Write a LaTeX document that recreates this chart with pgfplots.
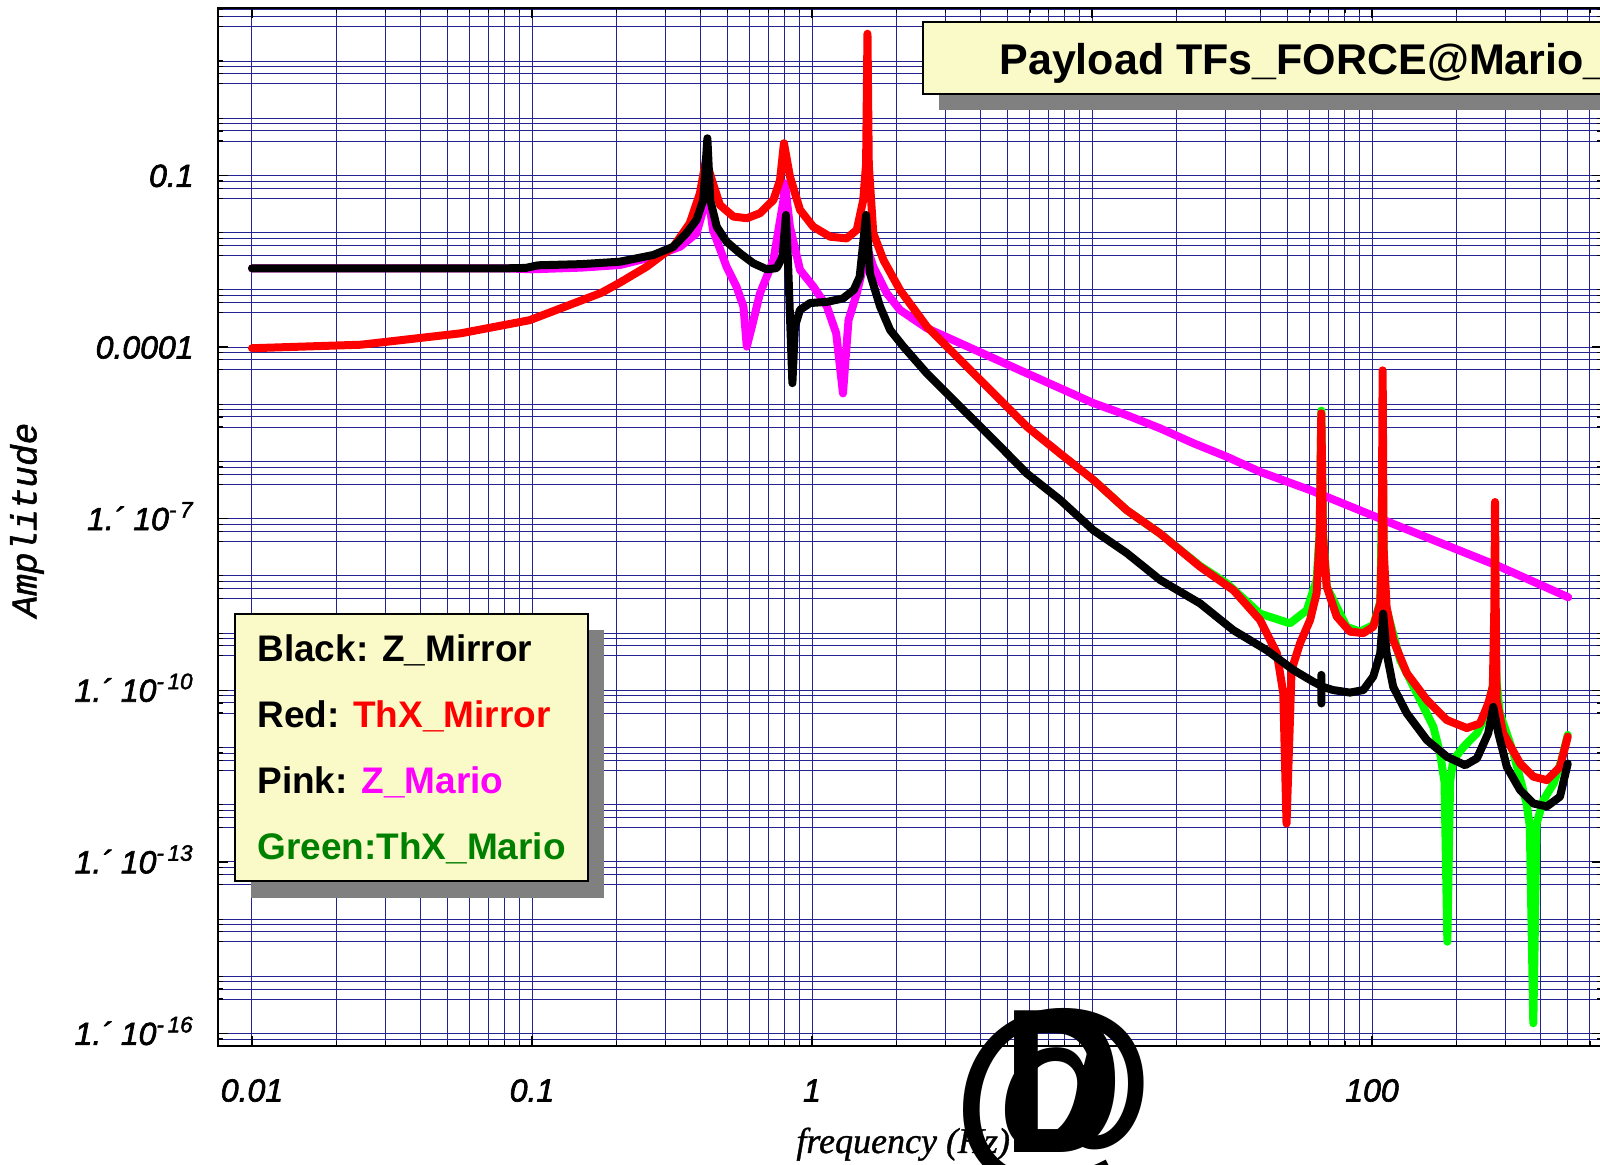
\documentclass[border=0pt]{standalone}
\usepackage{fontspec}
\setmainfont{Liberation Sans}
\newfontface\monofont[FakeBold=1.5]{Liberation Mono Italic}
\newfontface\seriffont[FakeBold=1]{Liberation Serif Italic}
\newfontface\tickfont[FakeBold=2]{Liberation Sans Italic}
\usepackage{graphicx}
\usepackage{pgfplots}
\pgfplotsset{compat=1.18}
\definecolor{gridblue}{RGB}{35,35,145}
\definecolor{boxyellow}{RGB}{250,250,200}
\definecolor{shadowgray}{RGB}{128,128,128}
\definecolor{cmagenta}{RGB}{255,0,255}
\definecolor{cgreen}{RGB}{0,255,0}
\definecolor{dgreen}{RGB}{0,128,0}
\definecolor{cred}{RGB}{255,0,0}
\begin{document}
\begin{tikzpicture}
\begin{axis}[
  at={(109pt,59.5pt)}, anchor=south west,
  scale only axis, width=692pt, height=519pt,
  xmode=log, ymode=log,
  xmin=0.007562, xmax=662.7,
  ymin=6.05e-17, ymax=84.7,
  xtick={0.01,0.1,1,10,100},
  xticklabels={0.01,0.1,1,10,100},
  minor xtick={0.02,0.03,0.04,0.05,0.06,0.07,0.08,0.09,0.2,0.3,0.4,0.5,0.6,0.7,0.8,0.9,2,3,4,5,6,7,8,9,20,30,40,50,60,70,80,90,200,300,400,500,600},
  ytick={1e-16,1e-13,1e-10,1e-7,1e-4,0.1},
  yticklabels={{1.´\ 10\textsuperscript{-\,16}},{1.´\ 10\textsuperscript{-\,13}},{1.´\ 10\textsuperscript{-\,10}},{1.´\ 10\textsuperscript{-\,7}},{0.0001},{0.1}},
  minor ytick={8e-17,
    1e-15,4e-16,6e-16,8e-16, 1e-14,4e-15,6e-15,8e-15, 4e-14,6e-14,8e-14,
    1e-12,4e-13,6e-13,8e-13, 1e-11,4e-12,6e-12,8e-12, 4e-11,6e-11,8e-11,
    1e-9,4e-10,6e-10,8e-10, 1e-8,4e-9,6e-9,8e-9, 4e-8,6e-8,8e-8,
    1e-6,4e-7,6e-7,8e-7, 1e-5,4e-6,6e-6,8e-6, 4e-5,6e-5,8e-5,
    1e-3,4e-4,6e-4,8e-4, 1e-2,4e-3,6e-3,8e-3, 4e-2,6e-2,8e-2,
    1,0.4,0.6,0.8, 10,4,6,8, 40,60,80},
  grid=both,
  major grid style={gridblue, line width=0.5pt},
  minor grid style={gridblue, line width=0.5pt},
  axis line style={black, line width=0.8pt},
  tick style={black, line width=0.6pt},
  major tick length=5pt, minor tick length=2.5pt,
  xticklabel style={font=\tickfont\fontsize{16}{16}\selectfont, anchor=base, inner sep=0pt, yshift=-27.75pt},
  yticklabel style={font=\tickfont\fontsize{16}{16}\selectfont, anchor=base east, inner sep=0pt, xshift=-12pt, yshift=-5.7pt},
  every axis plot/.append style={line width=4pt, line join=round, line cap=round},
]
% Green: ThX_Mario
\addplot[cgreen] coordinates {(10.1,4.79e-7) (13.3,1.41e-7) (17.5,5.5e-8) (24.3,1.5e-8) (30.3,7.41e-9) (39.8,2.19e-9) (50.9,1.48e-9) (58.5,2.51e-9) (63.4,8.51e-9) (65.0,6e-8) (65.9,7.76e-6) (66.8,6e-8) (68.9,6.46e-9) (81.1,1.29e-9) (90.6,1.06e-9) (101,1.38e-9) (107,3.5e-9) (109.1,1e-6) (110.5,3e-9) (112.7,2.6e-9) (126,3.39e-10) (144.5,8.91e-11) (165.6,2.29e-11) (175,7.94e-12) (181.5,2.5e-12) (185.8,4.03e-15) (190,2.5e-12) (195,6.03e-12) (212,1.02e-11) (237,1.78e-11) (257,3.98e-11) (271,1.32e-10) (275,5e-10) (279,1.3e-10) (286,3.98e-11) (320,7.94e-12) (356.5,1.05e-12) (366,4.17e-13) (376.7,1.51e-16) (387,4.68e-13) (409,1.20e-12) (445,2.34e-12) (475,6.03e-12) (500,1.66e-11)};
% Pink: Z_Mario
\addplot[cmagenta] coordinates {(0.01,2.38e-3) (0.08,2.38e-3) (0.1,2.29e-3) (0.15,2.45e-3) (0.206,2.72e-3) (0.271,3.80e-3) (0.338,5.69e-3) (0.387,9.77e-3) (0.415,3.27e-2) (0.423,5.62e-2) (0.443,1.12e-2) (0.495,2.55e-3) (0.537,1.15e-3) (0.569,5.13e-4) (0.585,1.02e-4) (0.61,2.29e-4) (0.652,8.71e-4) (0.728,3.31e-3) (0.791,3.72e-2) (0.80,7.29e-2) (0.834,1.27e-2) (0.906,2.24e-3) (1.01,1.15e-3) (1.13,5.13e-4) (1.22,1.74e-4) (1.29,1.55e-5) (1.35,2.95e-4) (1.445,8.71e-4) (1.524,2.57e-3) (1.56,6.31e-3) (1.655,2.55e-3) (1.85,8.71e-4) (2.06,4.47e-4) (2.57,2.14e-4) (3.38,1.17e-4) (4.45,6.37e-5) (5.85,3.48e-5) (7.69,1.91e-5) (10.1,1.05e-5) (13.3,6.46e-6) (17.5,3.80e-6) (23.0,2.09e-6) (30.3,1.21e-6) (39.8,6.61e-7) (60.1,3.16e-7) (126,7.24e-8) (286,1.45e-8) (502,4.23e-9)};
% Red: ThX_Mirror
\addplot[cred] coordinates {(0.01,9.55e-5) (0.0245,1.10e-4) (0.0556,1.74e-4) (0.098,2.95e-4) (0.177,8.9e-4) (0.206,1.34e-3) (0.257,2.55e-3) (0.32,5.69e-3) (0.366,1.46e-2) (0.398,4.90e-2) (0.418,0.187) (0.439,8.32e-2) (0.469,3.05e-2) (0.524,1.91e-2) (0.585,1.79e-2) (0.652,2.19e-2) (0.728,3.73e-2) (0.769,8.34e-2) (0.794,0.366) (0.834,9.55e-2) (0.906,2.51e-2) (1.01,1.27e-2) (1.16,8.51e-3) (1.33,7.94e-3) (1.445,1.12e-2) (1.524,3.72e-2) (1.56,0.158) (1.578,30.1) (1.595,0.158) (1.655,9.77e-3) (1.80,3.31e-3) (2.06,1.0e-3) (2.57,2.29e-4) (3.38,5.96e-5) (4.45,1.55e-5) (5.85,4.07e-6) (7.69,1.38e-6) (10.1,4.79e-7) (13.3,1.41e-7) (17.5,5.50e-8) (24.3,1.45e-8) (32.0,5.62e-9) (39.8,1.70e-9) (45.7,4.47e-10) (48.2,8.91e-11) (49.5,4.68e-13) (51.6,2.26e-10) (55.3,6.61e-10) (60.1,1.70e-9) (63.4,5.01e-9) (65.0,5e-8) (65.9,6.97e-6) (66.8,5e-8) (68.9,6.46e-9) (74.8,1.95e-9) (83.4,1.06e-9) (93.1,1.0e-9) (101,1.29e-9) (107,3.31e-9) (108.3,3e-8) (109.1,3.92e-5) (110,3e-8) (112.7,2.88e-9) (119,7.59e-10) (133,2.0e-10) (157,6.76e-11) (185,3.02e-11) (218,2.19e-11) (243,2.63e-11) (260,5.89e-11) (270,1.15e-10) (273.5,3e-9) (274.9,1.96e-7) (276.5,3e-9) (278.6,6.76e-11) (294,1.78e-11) (338,5.25e-12) (377,3.09e-12) (421,2.69e-12) (469,4.57e-12) (500,1.55e-11)};
% Black: Z_Mirror
\addplot[black] coordinates {(0.01,2.38e-3) (0.03,2.38e-3) (0.08,2.38e-3) (0.095,2.42e-3) (0.105,2.69e-3) (0.15,2.82e-3) (0.206,3.11e-3) (0.271,4.07e-3) (0.32,5.69e-3) (0.356,9.77e-3) (0.387,1.67e-2) (0.409,3.73e-2) (0.423,0.447) (0.433,3.72e-2) (0.457,1.27e-2) (0.495,6.97e-3) (0.553,4.37e-3) (0.617,2.92e-3) (0.689,2.29e-3) (0.748,2.40e-3) (0.785,3.80e-3) (0.807,2.04e-2) (0.822,2.57e-3) (0.851,2.34e-5) (0.869,2.29e-4) (0.906,4.47e-4) (0.984,5.89e-4) (1.13,6.17e-4) (1.29,7.08e-4) (1.41,1.0e-3) (1.48,1.70e-3) (1.56,2.04e-2) (1.61,1.95e-3) (1.75,5.13e-4) (1.90,2.0e-4) (2.12,1.02e-4) (2.57,3.48e-5) (3.38,9.12e-6) (4.45,2.40e-6) (5.85,6.17e-7) (7.69,2.14e-7) (10.1,6.31e-8) (13.3,2.51e-8) (17.5,8.51e-9) (24.3,3.31e-9) (32.0,1.12e-9) (42.1,5.01e-10) (52.4,2.26e-10) (61.7,1.41e-10) (65.8,1.2e-10) (65.9,1.86e-10) (65.95,5.89e-11) (66.0,1.17e-10) (72.6,1.01e-10) (83.4,9.12e-11) (93.1,1.01e-10) (101,1.74e-10) (107,4.47e-10) (109.6,2.19e-9) (112.7,4.47e-10) (119,1.15e-10) (133,3.98e-11) (157,1.35e-11) (185,6.92e-12) (215,4.90e-12) (237,6.46e-12) (260,1.78e-11) (271,5.13e-11) (282.5,1.78e-11) (303,4.57e-12) (338,1.80e-12) (377,1.05e-12) (421,9.33e-13) (469,1.38e-12) (500,5.25e-12)};
\end{axis}
\begin{scope}[shift={(0,582.5pt)}, x=0.5pt, y=-0.5pt]
  % legend
  \fill[shadowgray] (251,630) rectangle (604,898);
  \filldraw[fill=boxyellow, draw=black, line width=1pt] (235,614) rectangle (588,881);
  \begin{scope}[every node/.style={anchor=base west, inner sep=0pt, font=\fontsize{18.5}{18.5}\selectfont\bfseries}]
    \node at (257,662) {Black: Z\_Mirror};
    \node at (257,728) {Red: \textcolor{cred}{ThX\_Mirror}};
    \node at (257,794) {Pink: \textcolor{cmagenta}{Z\_Mario}};
    \node at (257,860) {\textcolor{dgreen}{Green:ThX\_Mario}};
  \end{scope}
  % title
  \fill[shadowgray] (939,94) rectangle (1750,110);
  \filldraw[fill=boxyellow, draw=black, line width=1pt] (923,22.5) rectangle (1750,94);
  \node[anchor=base west, inner sep=0pt, font=\fontsize{21.5}{21.5}\selectfont\bfseries] at (999,75) {Payload TFs\_FORCE@Mario\_};
  % axis labels
  \node[rotate=90, inner sep=0pt, font=\monofont\fontsize{18}{18}\selectfont] at (27,520) {Amplitude};
  \node[anchor=base west, inner sep=0pt, font=\seriffont\fontsize{18}{18}\selectfont] at (796,1153) {frequency (Hz)};
  % rendering artefact of the original label
  \node[anchor=base west, inner sep=0pt, font=\fontsize{105}{105}\selectfont\bfseries] at (951,1158) {@};
  \node[anchor=base west, inner sep=0pt, font=\fontsize{103}{103}\selectfont\bfseries] at (1003,1153) {\scalebox{0.8}[1]{D}};
\end{scope}
\pgfresetboundingbox
\useasboundingbox (0,0) rectangle (800pt,582.5pt);
\end{tikzpicture}
\end{document}
